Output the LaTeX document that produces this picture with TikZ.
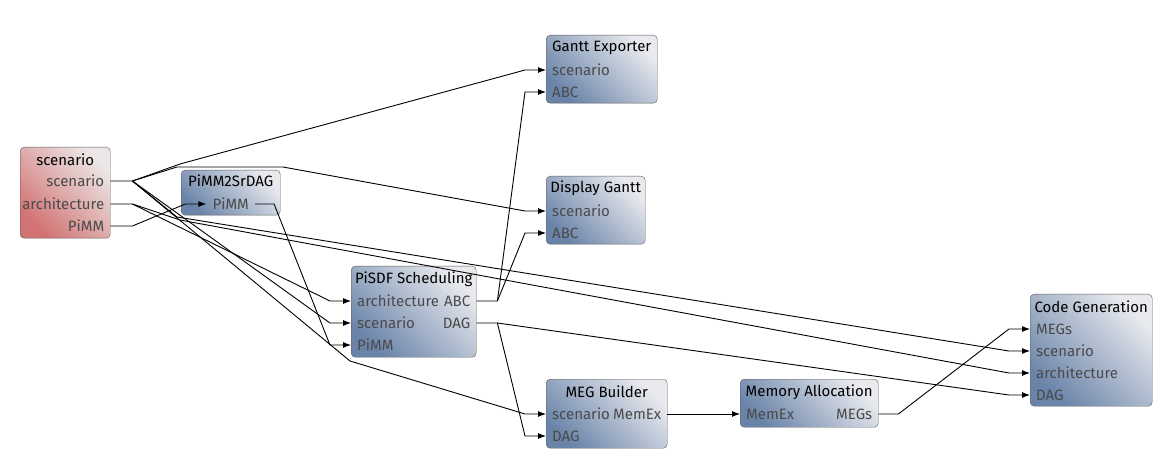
\documentclass[tikz,border=0pt]{standalone}
\usepackage{fontspec}
\setmainfont{Fira Sans}
\usetikzlibrary{arrows.meta}

\definecolor{blueDark}{HTML}{6A84A9}
\definecolor{blueLight}{HTML}{E9EAEE}
\definecolor{redDark}{HTML}{D27272}
\definecolor{redLight}{HTML}{ECE6E6}
\definecolor{borderGray}{HTML}{5C5C5C}
\definecolor{portGray}{HTML}{4A4A4A}

\begin{document}
\begin{tikzpicture}[x=1pt, y=-1pt,
    block/.style={draw=borderGray, rounded corners=4pt, anchor=north west, inner sep=0pt,
        top color=blueLight, bottom color=blueDark, shading angle=-45},
    srcblock/.style={block, top color=redLight, bottom color=redDark, shading angle=-45},
    title/.style={font=\fontsize{15}{17}\selectfont, text=black, inner sep=0pt},
    port/.style={font=\fontsize{15}{17}\selectfont, text=portGray, inner xsep=6pt, inner ysep=0pt},
    inport/.style={port, anchor=west},
    outport/.style={port, anchor=east},
    conn/.style={-{Latex[length=8pt, width=6pt]}, black, line width=0.9pt}
]
\useasboundingbox (0,0) rectangle (1176,473);

% workflow tasks
\node[srcblock, minimum width=90pt, minimum height=91pt] (sc) at (20,147) {};
\node[block, minimum width=99pt, minimum height=45pt] (p2s) at (181,170) {};
\node[block, minimum width=125pt, minimum height=91pt] (pisdf) at (351,266) {};
\node[block, minimum width=111pt, minimum height=68pt] (gx) at (546,35) {};
\node[block, minimum width=99pt, minimum height=68pt] (dg) at (546,176) {};
\node[block, minimum width=121pt, minimum height=69pt] (meg) at (546,379) {};
\node[block, minimum width=138pt, minimum height=48pt] (mem) at (740,379) {};
\node[block, minimum width=122pt, minimum height=112pt] (cg) at (1030,294) {};

% titles
\node[title] (sc-t) at ([shift={(0,13)}]sc.north) {scenario};
\node[title] (p2s-t) at ([shift={(0,11)}]p2s.north) {PiMM2SrDAG};
\node[title] (pisdf-t) at ([shift={(0,13)}]pisdf.north) {PiSDF Scheduling};
\node[title] (gx-t) at ([shift={(0,13)}]gx.north) {Gantt Exporter};
\node[title] (dg-t) at ([shift={(0,12)}]dg.north) {Display Gantt};
\node[title] (meg-t) at ([shift={(0,13)}]meg.north) {MEG Builder};
\node[title] (mem-t) at ([shift={(0,13)}]mem.north) {Memory Allocation};
\node[title] (cg-t) at ([shift={(0,13)}]cg.north) {Code Generation};

% ports
\node[outport] (sc-o-scen) at ([shift={(0,34)}]sc.north east) {scenario};
\node[outport] (sc-o-arch) at ([shift={(0,57)}]sc.north east) {architecture};
\node[outport] (sc-o-pimm) at ([shift={(0,79)}]sc.north east) {PiMM};
\node[port] (p2s-pimm) at ([shift={(0,34)}]p2s.north) {PiMM};
\node[inport] (pisdf-i-arch) at ([shift={(0,35)}]pisdf.north west) {architecture};
\node[inport] (pisdf-i-scen) at ([shift={(0,57)}]pisdf.north west) {scenario};
\node[inport] (pisdf-i-pimm) at ([shift={(0,79)}]pisdf.north west) {PiMM};
\node[outport] (pisdf-o-abc) at ([shift={(0,35)}]pisdf.north east) {ABC};
\node[outport] (pisdf-o-dag) at ([shift={(0,57)}]pisdf.north east) {DAG};
\node[inport] (gx-i-scen) at ([shift={(0,35)}]gx.north west) {scenario};
\node[inport] (gx-i-abc) at ([shift={(0,57)}]gx.north west) {ABC};
\node[inport] (dg-i-scen) at ([shift={(0,35)}]dg.north west) {scenario};
\node[inport] (dg-i-abc) at ([shift={(0,57)}]dg.north west) {ABC};
\node[inport] (meg-i-scen) at ([shift={(0,35)}]meg.north west) {scenario};
\node[inport] (meg-i-dag) at ([shift={(0,57)}]meg.north west) {DAG};
\node[outport] (meg-o-memex) at ([shift={(0,35)}]meg.north east) {MemEx};
\node[inport] (mem-i-memex) at ([shift={(0,35)}]mem.north west) {MemEx};
\node[outport] (mem-o-megs) at ([shift={(0,35)}]mem.north east) {MEGs};
\node[inport] (cg-i-megs) at ([shift={(0,35)}]cg.north west) {MEGs};
\node[inport] (cg-i-scen) at ([shift={(0,57)}]cg.north west) {scenario};
\node[inport] (cg-i-arch) at ([shift={(0,79)}]cg.north west) {architecture};
\node[inport] (cg-i-dag) at ([shift={(0,101)}]cg.north west) {DAG};

% fan-out points
\coordinate (sc-s) at ([xshift=22pt]sc-o-scen.east);
\coordinate (sc-a) at ([xshift=22pt]sc-o-arch.east);
\coordinate (abc-s) at ([xshift=21pt]pisdf-o-abc.east);
\coordinate (dag-s) at ([xshift=21pt]pisdf-o-dag.east);

% scenario
\draw[conn] (sc-o-scen.east) -- (sc-s) -- (180,164) -- ([xshift=-21pt]gx-i-scen.west) -- (gx-i-scen.west);
\draw[conn] (sc-s) -- (177,167) -- (283,167) -- ([xshift=-21pt]dg-i-scen.west) -- (dg-i-scen.west);
\draw[conn] (sc-s) -- ([xshift=-21pt]pisdf-i-scen.west) -- (pisdf-i-scen.west);
\draw[conn] (sc-s) -- (350,361) -- ([xshift=-21pt]meg-i-scen.west) -- (meg-i-scen.west);
\draw[conn] (sc-s) -- (177,217) -- ([xshift=-21pt]cg-i-scen.west) -- (cg-i-scen.west);
% architecture
\draw[conn] (sc-o-arch.east) -- (sc-a) -- ([xshift=-21pt]pisdf-i-arch.west) -- (pisdf-i-arch.west);
\draw[conn] (sc-a) -- (180,220) -- ([xshift=-21pt]cg-i-arch.west) -- (cg-i-arch.west);
% PiMM
\draw[conn] (sc-o-pimm.east) -- ++(22,0) -- ([xshift=-21pt]p2s-pimm.west) -- (p2s-pimm.west);
\draw[conn] (p2s-pimm.east) -- ++(19,0) -- ([xshift=-21pt]pisdf-i-pimm.west) -- (pisdf-i-pimm.west);
% schedule results
\draw[conn] (pisdf-o-abc.east) -- (abc-s) -- ([xshift=-21pt]gx-i-abc.west) -- (gx-i-abc.west);
\draw[conn] (abc-s) -- ([xshift=-21pt]dg-i-abc.west) -- (dg-i-abc.west);
\draw[conn] (pisdf-o-dag.east) -- (dag-s) -- ([xshift=-21pt]meg-i-dag.west) -- (meg-i-dag.west);
\draw[conn] (dag-s) -- ([xshift=-21pt]cg-i-dag.west) -- (cg-i-dag.west);
% memory
\draw[conn] (meg-o-memex.east) -- (mem-i-memex.west);
\draw[conn] (mem-o-megs.east) -- ++(20,0) -- ([xshift=-21pt]cg-i-megs.west) -- (cg-i-megs.west);
\end{tikzpicture}
\end{document}
